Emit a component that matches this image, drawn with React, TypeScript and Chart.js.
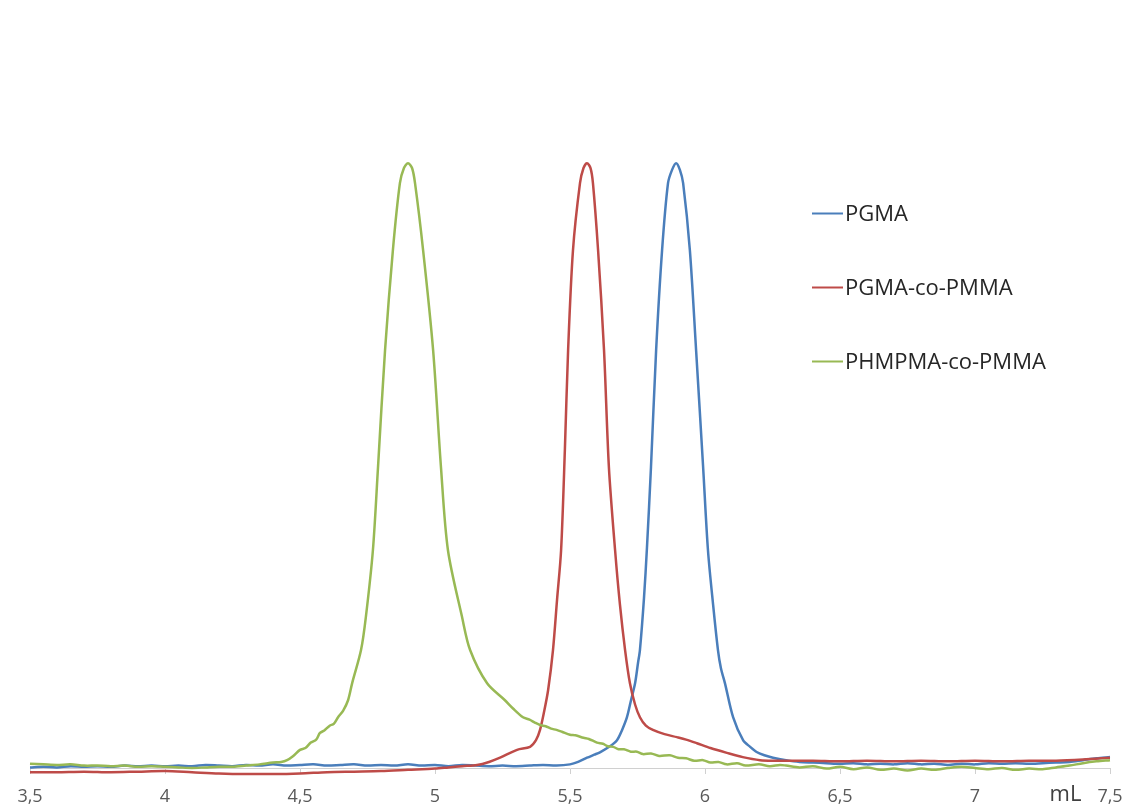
import React, { useEffect, useRef } from "react";
import { Chart, registerables } from "chart.js";

Chart.register(...registerables);

const SERIES_LABELS = ["PGMA", "PGMA-co-PMMA", "PHMPMA-co-PMMA"];
const SERIES_COLORS = ["#4a7ebb", "#be4b48", "#98b954"];
const X_TICKS = [3.5, 4, 4.5, 5, 5.5, 6, 6.5, 7, 7.5];
const X_UNIT = "mL";

// PGMA (blue)
const pgmaX = [
  3.5, 3.55, 3.6, 3.65, 3.7, 3.75, 3.8, 3.85, 3.9, 3.95, 4.0, 4.05, 4.1, 4.15, 4.2, 4.25, 4.3, 4.35, 4.4, 4.45,
  4.5, 4.55, 4.6, 4.65, 4.7, 4.75, 4.8, 4.85, 4.9, 4.95, 5.0, 5.05, 5.1, 5.15, 5.2, 5.25, 5.3, 5.35, 5.4, 5.45,
  5.5, 5.53, 5.563, 5.59, 5.611, 5.645, 5.674, 5.693, 5.711, 5.726, 5.741, 5.752, 5.759, 5.774, 5.785, 5.8, 5.819,
  5.841, 5.863, 5.878, 5.893, 5.907, 5.919, 5.944, 5.967, 5.993, 6.011, 6.03, 6.048, 6.059, 6.074, 6.104, 6.141, 6.167,
  6.193, 6.22, 6.252, 6.3, 6.35, 6.4, 6.45, 6.5, 6.55, 6.6, 6.65, 6.7, 6.75, 6.8, 6.85, 6.9, 6.95, 7.0, 7.05,
  7.1, 7.15, 7.2, 7.25, 7.3, 7.35, 7.4, 7.45, 7.5,
];
const pgmaY = [
  0.001, 0.002, 0.001, 0.003, 0.002, 0.003, 0.002, 0.004, 0.003, 0.004, 0.003, 0.004, 0.003, 0.005, 0.004, 0.003, 0.005, 0.004, 0.006, 0.004,
  0.005, 0.006, 0.004, 0.005, 0.006, 0.004, 0.005, 0.004, 0.006, 0.004, 0.005, 0.003, 0.005, 0.004, 0.003, 0.004, 0.003, 0.004, 0.005, 0.004,
  0.006, 0.01, 0.017, 0.022, 0.026, 0.035, 0.046, 0.063, 0.084, 0.112, 0.14, 0.174, 0.195, 0.281, 0.364, 0.498, 0.691,
  0.856, 0.967, 0.989, 1.0, 0.989, 0.967, 0.856, 0.691, 0.498, 0.36, 0.27, 0.195, 0.165, 0.14, 0.084, 0.046, 0.035,
  0.026, 0.021, 0.017, 0.013, 0.01, 0.009, 0.008, 0.007, 0.008, 0.006, 0.007, 0.006, 0.008, 0.006, 0.007, 0.005, 0.007, 0.006, 0.008,
  0.007, 0.008, 0.007, 0.008, 0.009, 0.01, 0.013, 0.016, 0.018,
];

// PGMA-co-PMMA (red)
const copX = [
  3.5, 3.6, 3.7, 3.8, 3.9, 4.0, 4.1, 4.2, 4.3, 4.4, 4.5, 4.6, 4.7, 4.8, 4.9, 5.0, 5.05, 5.1, 5.156, 5.2,
  5.241, 5.304, 5.352, 5.374, 5.389, 5.404, 5.419, 5.437, 5.452, 5.467, 5.481, 5.493, 5.511, 5.537, 5.55, 5.563, 5.576,
  5.585, 5.604, 5.626, 5.644, 5.667, 5.685, 5.704, 5.722, 5.741, 5.759, 5.781, 5.807, 5.85, 5.896, 5.93, 5.97,
  6.02, 6.081, 6.14, 6.204, 6.26, 6.3, 6.4, 6.5, 6.6, 6.7, 6.8, 6.9, 7.0, 7.1, 7.2, 7.3, 7.4, 7.5,
];
const copY = [
  -0.007, -0.007, -0.006, -0.007, -0.006, -0.005, -0.007, -0.009, -0.01, -0.01, -0.009, -0.007, -0.006, -0.005, -0.003, -0.001, 0.001, 0.003, 0.005, 0.01,
  0.017, 0.03, 0.035, 0.046, 0.063, 0.093, 0.129, 0.195, 0.278, 0.36, 0.526, 0.691, 0.856, 0.967, 0.992, 1.0, 0.992,
  0.967, 0.856, 0.691, 0.498, 0.36, 0.27, 0.195, 0.14, 0.105, 0.084, 0.07, 0.063, 0.056, 0.051, 0.047, 0.041,
  0.033, 0.025, 0.018, 0.013, 0.012, 0.012, 0.012, 0.011, 0.012, 0.011, 0.012, 0.011, 0.012, 0.011, 0.012, 0.012, 0.014, 0.017,
];

// PHMPMA-co-PMMA (green)
const phmX = [
  3.5, 3.55, 3.6, 3.65, 3.7, 3.75, 3.8, 3.85, 3.9, 3.95, 4.0, 4.05, 4.1, 4.15, 4.2, 4.25, 4.3, 4.35, 4.4, 4.43,
  4.452, 4.475, 4.5, 4.52, 4.54, 4.56, 4.574, 4.59, 4.61, 4.625, 4.641, 4.66, 4.678, 4.693, 4.726, 4.744, 4.77,
  4.789, 4.815, 4.844, 4.87, 4.885, 4.9, 4.915, 4.926, 4.956, 4.993, 5.022, 5.048, 5.1, 5.13, 5.193, 5.259, 5.29,
  5.326, 5.35, 5.37, 5.389, 5.41, 5.43, 5.45, 5.47, 5.5, 5.52, 5.55, 5.57, 5.6, 5.622, 5.64, 5.66, 5.68, 5.7,
  5.725, 5.748, 5.77, 5.8, 5.83, 5.87, 5.9, 5.93, 5.96, 5.993, 6.02, 6.05, 6.08, 6.119, 6.15, 6.2, 6.24, 6.278,
  6.3, 6.35, 6.4, 6.45, 6.5, 6.55, 6.6, 6.65, 6.7, 6.75, 6.8, 6.85, 6.9, 6.95, 7.0, 7.05, 7.1, 7.15, 7.2, 7.25,
  7.3, 7.35, 7.4, 7.45, 7.5,
];
const phmY = [
  0.007, 0.006, 0.005, 0.006, 0.004, 0.004, 0.003, 0.004, 0.002, 0.003, 0.002, 0.001, 0.0, 0.001, 0.002, 0.002, 0.004, 0.006, 0.009, 0.01,
  0.013, 0.02, 0.03, 0.033, 0.042, 0.047, 0.058, 0.062, 0.07, 0.073, 0.084, 0.095, 0.112, 0.14, 0.195, 0.25, 0.36,
  0.498, 0.691, 0.856, 0.967, 0.992, 1.0, 0.992, 0.967, 0.856, 0.691, 0.498, 0.36, 0.25, 0.195, 0.14, 0.112, 0.098,
  0.084, 0.08, 0.075, 0.071, 0.069, 0.065, 0.063, 0.06, 0.055, 0.054, 0.05, 0.048, 0.042, 0.04, 0.036, 0.035, 0.031, 0.031,
  0.027, 0.027, 0.023, 0.024, 0.02, 0.021, 0.017, 0.016, 0.012, 0.013, 0.009, 0.01, 0.006, 0.008, 0.004, 0.006, 0.003, 0.005,
  0.004, 0.001, 0.003, -0.001, 0.002, -0.002, 0.001, -0.003, -0.001, -0.004, -0.001, -0.003, 0.0, 0.002, 0.0, -0.002, 0.0, -0.003, -0.001, -0.002,
  0.001, 0.004, 0.008, 0.011, 0.013,
];

const SERIES_X = [pgmaX, copX, phmX];
const SERIES_Y = [pgmaY, copY, phmY];

const FONT = '"Open Sans", "Liberation Sans", sans-serif';

const overlayPlugin = {
  id: "overlayText",
  afterDraw(chart: any) {
    const ctx = chart.ctx;
    const area = chart.chartArea;
    ctx.save();
    chart.data.datasets.forEach((ds: any, i: number) => {
      const y = 213.5 + i * 74;
      const x0 = area.left + 782;
      ctx.strokeStyle = ds.borderColor;
      ctx.lineWidth = 2;
      ctx.beginPath();
      ctx.moveTo(x0, y);
      ctx.lineTo(x0 + 31, y);
      ctx.stroke();
      ctx.fillStyle = "#262626";
      ctx.font = `22px ${FONT}`;
      ctx.textBaseline = "middle";
      ctx.textAlign = "left";
      ctx.fillText(ds.label, x0 + 33, y + 1);
    });
    const xs = chart.scales.x;
    ctx.fillStyle = "#404040";
    ctx.font = `22px ${FONT}`;
    ctx.textAlign = "center";
    ctx.textBaseline = "middle";
    ctx.fillText(X_UNIT, xs.getPixelForValue(7.335), 795);
    ctx.restore();
  },
};

export default function App() {
  const ref = useRef<HTMLCanvasElement | null>(null);
  useEffect(() => {
    if (!ref.current) return;
    const datasets = SERIES_LABELS.map((label, i) => ({
      label,
      data: SERIES_X[i].map((x, j) => ({ x, y: SERIES_Y[i][j] })),
      borderColor: SERIES_COLORS[i],
      backgroundColor: SERIES_COLORS[i],
      borderWidth: 2.5,
      pointRadius: 0,
      tension: 0.3,
      fill: false,
      clip: 10,
      order: 2 - i,
    }));
    const chart = new Chart(ref.current, {
      type: "line",
      data: { datasets },
      options: {
        animation: false,
        responsive: false,
        devicePixelRatio: 1,
        layout: { padding: { left: 30, right: 16, top: 12, bottom: 0 } },
        plugins: { legend: { display: false }, tooltip: { enabled: false } },
        scales: {
          x: {
            type: "linear",
            min: 3.5,
            max: 7.5,
            afterBuildTicks: (scale: any) => {
              scale.ticks = X_TICKS.map((v) => ({ value: v }));
            },
            afterFit: (scale: any) => {
              scale.height = 37;
              scale.paddingLeft = 0;
              scale.paddingRight = 0;
            },
            ticks: {
              color: "#595959",
              font: { family: FONT, size: 18 },
              padding: 12,
              maxRotation: 0,
              autoSkip: false,
              callback: (v: any) => String(v).replace(".", ","),
            },
            grid: {
              drawOnChartArea: false,
              drawTicks: true,
              tickLength: 6,
              color: "#d0d0d0",
            },
            border: { display: true, color: "#d0d0d0", width: 1 },
          },
          y: {
            display: false,
            min: 0,
            max: 1.25,
          },
        },
      },
      plugins: [overlayPlugin],
    });
    return () => chart.destroy();
  }, []);
  return (
    <div style={{ position: "absolute", left: 0, top: 0, width: 1126, height: 805, background: "#fff" }}>
      <canvas ref={ref} width={1126} height={805} />
    </div>
  );
}
